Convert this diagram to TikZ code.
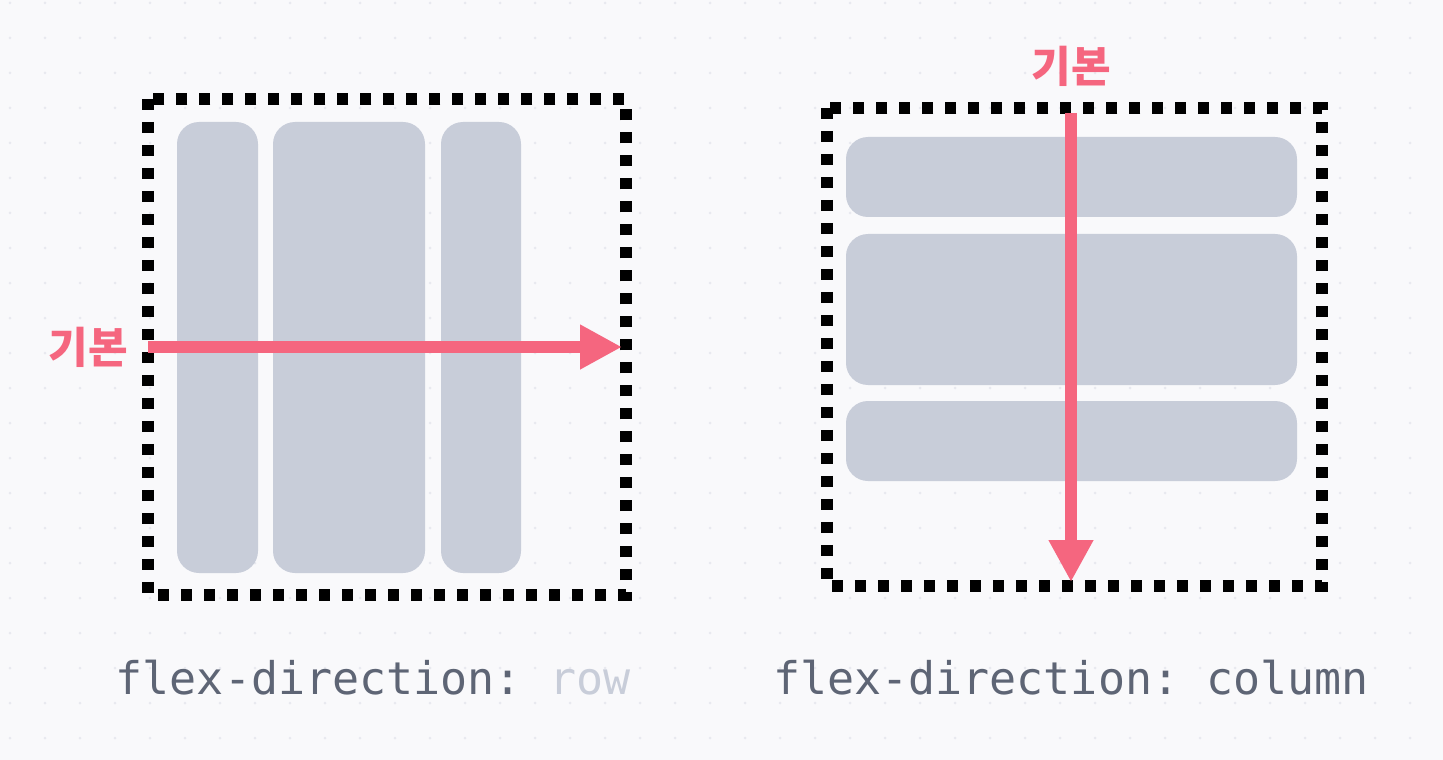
\documentclass[tikz,border=0pt]{standalone}
\usepackage{fontspec}
\setmonofont{DejaVu Sans Mono}
\newfontfamily\kofont{Noto Sans CJK KR}
\usetikzlibrary{arrows.meta,positioning}
\definecolor{paper}{RGB}{249,249,251}
\definecolor{griddot}{RGB}{232,233,239}
\definecolor{item}{RGB}{200,205,217}
\definecolor{accent}{RGB}{245,102,127}
\definecolor{codegray}{RGB}{94,101,117}
\colorlet{faint}{item}

\begin{document}
\begin{tikzpicture}[x=0.02cm,y=-0.02cm,>=Triangle,
    dotbox/.style={draw=black,line width=0.24cm,dash pattern=on 0.23cm off 0.23cm},
    flexitem/.style={fill=item,rounded corners=0.44cm},
    flow/.style={accent,line width=0.24cm,-{Triangle[length=0.84cm,width=0.84cm]}},
    kolabel/.style={font=\kofont\bfseries\fontsize{24.5}{27}\selectfont,text=accent,inner sep=0pt},
    caption/.style={font=\ttfamily\fontsize{25.6}{28}\selectfont,text=codegray,inner sep=0pt,anchor=base}]
  \fill[paper] (0,0) rectangle (1443,760);
  \useasboundingbox (0,0) rectangle (1443,760);
  \foreach \x in {10,45,...,1440} \foreach \y in {3,38,...,760}
    \fill[griddot] (\x,\y) circle (1.5);
  % row
  \fill[flexitem] (177,122) rectangle (258,573);
  \fill[flexitem] (273,122) rectangle (425,573);
  \fill[flexitem] (441,122) rectangle (521,573);
  \draw[dotbox] (148,99) rectangle (626,595);
  \coordinate (rowStart) at (148,347);
  \coordinate (rowEnd) at (622,347);
  \draw[flow] (rowStart) -- (rowEnd);
  \node[kolabel,left=0.4cm of rowStart] (baseRow) {기본};
  % column
  \fill[flexitem] (846,137) rectangle (1297,217);
  \fill[flexitem] (846,234) rectangle (1297,385);
  \fill[flexitem] (846,401) rectangle (1297,481);
  \draw[dotbox] (827,108) rectangle (1322,586);
  \coordinate (colStart) at (1071,113);
  \coordinate (colEnd) at (1071,582);
  \draw[flow] (colStart) -- (colEnd);
  \node[kolabel] (baseCol) at (1071,66) {기본};
  \node[caption] (capRow) at (373,694) {flex-direction: \textcolor{faint}{row}};
  \node[caption] (capCol) at (1071,694) {flex-direction: column};
\end{tikzpicture}
\end{document}
